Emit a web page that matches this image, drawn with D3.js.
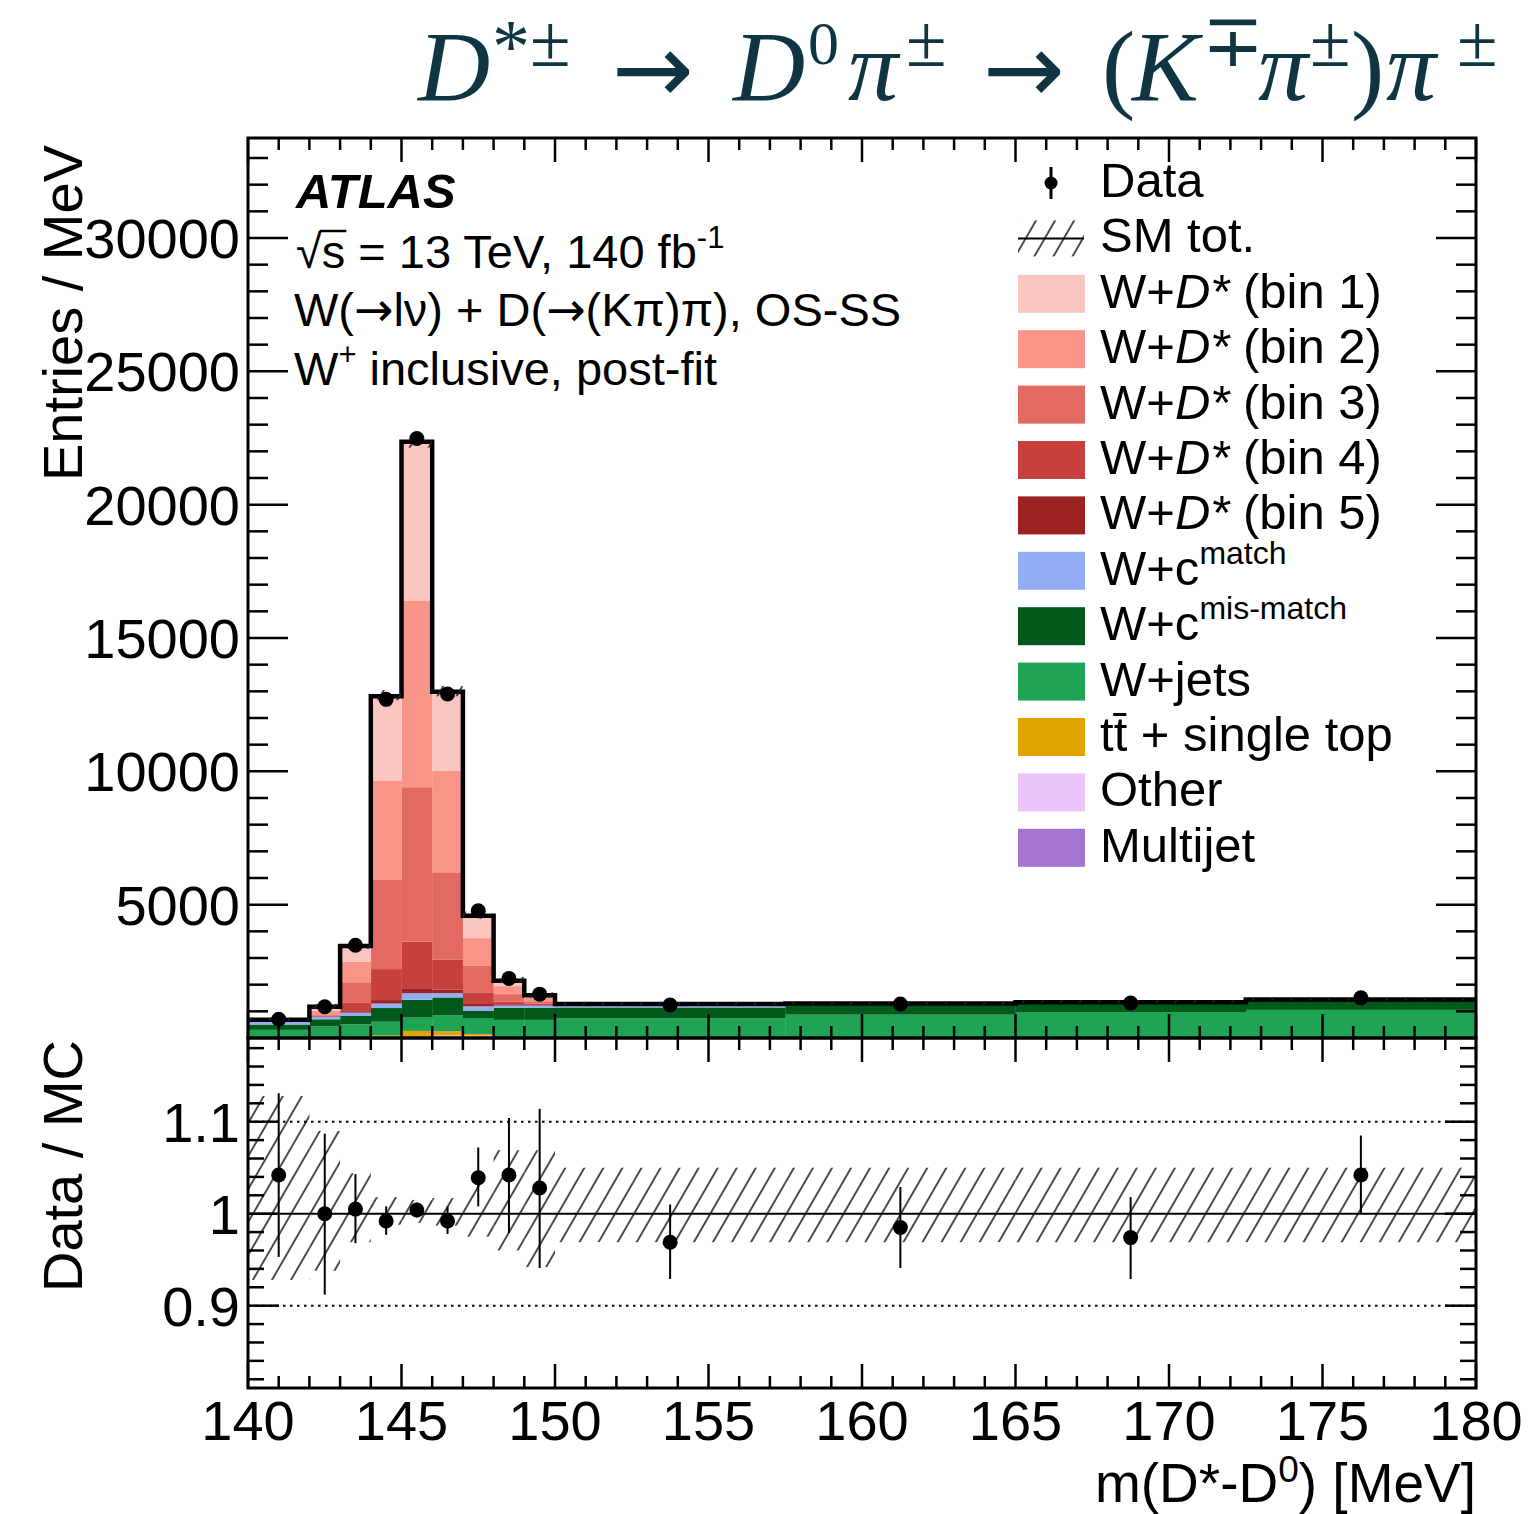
<!DOCTYPE html>
<html>
<head>
<meta charset="utf-8">
<script src="https://cdn.jsdelivr.net/npm/d3@7"></script>
<style>
  body { margin: 0; background: #fff; }
  svg { display: block; }
  text { font-family: "Liberation Sans", Arial, Helvetica, sans-serif; fill: #000; }
  .arr { font-family: "DejaVu Sans", sans-serif; }
</style>
</head>
<body>
<svg id="chart" width="1531" height="1514"></svg>
<script>
// Bin edges of m(D*-D0) in MeV
const edges = [140, 142, 143, 144, 145, 146, 147, 148, 149, 150, 157.5, 165, 172.5, 180];

// Post-fit stacked contributions (entries / MeV), bottom of the stack first
const multijet = [5, 5, 5, 5, 10, 10, 5, 5, 5, 5, 5, 5, 5];
const other    = [5, 5, 10, 15, 30, 86, 86, 15, 10, 5, 5, 5, 5];
const topQuark = [5, 10, 20, 75, 225, 161, 60, 10, 5, 5, 5, 5, 5];
const wjets    = [290, 420, 480, 515, 500, 590, 599, 650, 660, 730, 860, 960, 1040];
const wcMis    = [200, 262, 311, 513, 663, 674, 277, 449, 450, 400, 370, 320, 340];
const wcMatch  = [100, 86, 124, 172, 251, 161, 161, 86, 86, 90, 10, 10, 10];
const ds5      = [5, 15, 55, 127, 187, 127, 86, 50, 20, 5, 5, 5, 5];
const ds4      = [10, 30, 311, 1161, 1745, 1124, 438, 100, 55, 5, 5, 5, 5];
const ds3      = [15, 55, 775, 3344, 5794, 3281, 1011, 280, 86, 10, 10, 10, 10];
const ds2      = [20, 124, 760, 3734, 7003, 3797, 1022, 300, 127, 10, 10, 10, 10];
const ds1      = [25, 160, 600, 3157, 5955, 2970, 839, 200, 97, 10, 10, 10, 10];

// Observed data (entries / MeV)
const dataVals = [705, 1170, 3480, 12700, 22480, 12900, 4770, 2235, 1645, 1240, 1275, 1310, 1505];

// Data / MC ratio with its error bar ends
const ratioVals = [1.042, 1.000, 1.005, 0.992, 1.004, 0.992, 1.039, 1.042, 1.028, 0.969, 0.985, 0.974, 1.042];
const ratioHi   = [1.131, 1.087, 1.043, 1.008, 1.012, 1.008, 1.072, 1.104, 1.114, 1.010, 1.029, 1.018, 1.085];
const ratioLo   = [0.953, 0.912, 0.968, 0.977, 0.996, 0.978, 1.008, 0.979, 0.941, 0.929, 0.941, 0.929, 1.000];

// Relative SM uncertainty band
const bandHi = [1.128, 1.090, 1.044, 1.018, 1.015, 1.017, 1.033, 1.069, 1.069, 1.050, 1.050, 1.050, 1.050];
const bandLo = [0.928, 0.938, 0.969, 0.988, 0.990, 0.987, 0.975, 0.960, 0.942, 0.969, 0.969, 0.969, 0.969];

// Axis tick labels
const xTickVals = [140, 145, 150, 155, 160, 165, 170, 175, 180];
const yTickVals = [5000, 10000, 15000, 20000, 25000, 30000];
const rTickVals = [0.9, 1.0, 1.1];
const rTickText = ["0.9", "1", "1.1"];

const keys = ["multijet", "other", "topQuark", "wjets", "wcMis", "wcMatch", "ds5", "ds4", "ds3", "ds2", "ds1"];
const series = { multijet, other, topQuark, wjets, wcMis, wcMatch, ds5, ds4, ds3, ds2, ds1 };
const colors = {
  multijet: "#a675d1", other: "#ebc4fb", topQuark: "#e0a500", wjets: "#1fa456",
  wcMis: "#02591b", wcMatch: "#92aef5", ds5: "#9c2121", ds4: "#c6403e",
  ds3: "#e36a62", ds2: "#f99489", ds1: "#fbc6c0"
};

const svg = d3.select("#chart");
const L = 248, R = 1476, T = 138, MB = 1038, RB = 1388;

const x = d3.scaleLinear().domain([140, 180]).range([L, R]);
const y = d3.scaleLinear().domain([0, 33750]).range([MB, T]);
const yr = d3.scaleLinear().domain([0.8105, 1.191]).range([RB, MB]);

const bins = d3.range(dataVals.length).map(i => {
  const row = { i, lo: edges[i], hi: edges[i + 1], c: (edges[i] + edges[i + 1]) / 2 };
  keys.forEach(k => row[k] = series[k][i]);
  return row;
});
const totals = bins.map(b => d3.sum(keys, k => b[k]));

// hatch pattern
const defs = svg.append("defs");
defs.append("pattern").attr("id", "hatch").attr("patternUnits", "userSpaceOnUse")
  .attr("width", 16.5).attr("height", 40).attr("patternTransform", "rotate(30)")
  .append("line").attr("x1", 1).attr("x2", 1).attr("y1", 0).attr("y2", 40)
  .attr("stroke", "#222").attr("stroke-width", 1.6);
defs.append("clipPath").attr("id", "clipMain").append("rect")
  .attr("x", L).attr("y", T).attr("width", R - L).attr("height", MB - T);
defs.append("clipPath").attr("id", "clipRatio").append("rect")
  .attr("x", L).attr("y", MB).attr("width", R - L).attr("height", RB - MB);

// ---- main panel: stacked histogram
const stack = d3.stack().keys(keys)(bins);
const gMain = svg.append("g").attr("clip-path", "url(#clipMain)");
gMain.selectAll("g.layer").data(stack).join("g").attr("class", "layer")
  .attr("fill", d => colors[d.key])
  .selectAll("rect").data(d => d).join("rect")
  .attr("x", d => x(d.data.lo))
  .attr("width", d => x(d.data.hi) - x(d.data.lo) + 0.3)
  .attr("y", d => y(d[1]))
  .attr("height", d => Math.max(0, y(d[0]) - y(d[1])));

// total outline
const stepPts = bins.map((b, i) => [b.lo, totals[i]]);
stepPts.push([180, totals[totals.length - 1]]);
gMain.append("path")
  .attr("d", d3.line().x(d => x(d[0])).y(d => y(d[1])).curve(d3.curveStepAfter)(stepPts))
  .attr("fill", "none").attr("stroke", "#000").attr("stroke-width", 4.5);

// SM uncertainty band
gMain.selectAll("rect.band").data(bins).join("rect").attr("class", "band")
  .attr("x", d => x(d.lo)).attr("width", d => x(d.hi) - x(d.lo))
  .attr("y", (d, i) => y(totals[i] * bandHi[i]))
  .attr("height", (d, i) => y(totals[i] * bandLo[i]) - y(totals[i] * bandHi[i]))
  .attr("fill", "url(#hatch)");

// data points
gMain.selectAll("circle.data").data(bins).join("circle").attr("class", "data")
  .attr("cx", d => x(d.c)).attr("cy", (d, i) => y(dataVals[i])).attr("r", 7.5);

// ---- ratio panel
const gRatio = svg.append("g").attr("clip-path", "url(#clipRatio)");
gRatio.selectAll("rect.rband").data(bins).join("rect").attr("class", "rband")
  .attr("x", d => x(d.lo)).attr("width", d => x(d.hi) - x(d.lo))
  .attr("y", (d, i) => yr(bandHi[i]))
  .attr("height", (d, i) => yr(bandLo[i]) - yr(bandHi[i]))
  .attr("fill", "url(#hatch)");
[1.1, 0.9].forEach(v => gRatio.append("line")
  .attr("x1", L).attr("x2", R).attr("y1", yr(v)).attr("y2", yr(v))
  .attr("stroke", "#000").attr("stroke-width", 2).attr("stroke-dasharray", "2.5,4.5"));
gRatio.append("line").attr("x1", L).attr("x2", R).attr("y1", yr(1)).attr("y2", yr(1))
  .attr("stroke", "#000").attr("stroke-width", 2);
gRatio.selectAll("line.err").data(bins).join("line").attr("class", "err")
  .attr("x1", d => x(d.c)).attr("x2", d => x(d.c))
  .attr("y1", (d, i) => yr(ratioHi[i])).attr("y2", (d, i) => yr(ratioLo[i]))
  .attr("stroke", "#000").attr("stroke-width", 2);
gRatio.selectAll("circle.rp").data(bins).join("circle").attr("class", "rp")
  .attr("cx", d => x(d.c)).attr("cy", (d, i) => yr(ratioVals[i])).attr("r", 7.5);

// ---- frames and ticks
const gAx = svg.append("g").attr("stroke", "#000").attr("fill", "none");
gAx.append("rect").attr("x", L).attr("y", T).attr("width", R - L).attr("height", MB - T).attr("stroke-width", 3);
gAx.append("rect").attr("x", L).attr("y", MB).attr("width", R - L).attr("height", RB - MB).attr("stroke-width", 3);

function xTicks(top, bottom, maj, mnr) {
  d3.range(140, 180.01, 1).forEach(v => {
    const len = (v % 5 === 0) ? maj : mnr;
    gAx.append("line").attr("x1", x(v)).attr("x2", x(v)).attr("y1", bottom).attr("y2", bottom - len).attr("stroke-width", 2.5);
    gAx.append("line").attr("x1", x(v)).attr("x2", x(v)).attr("y1", top).attr("y2", top + len).attr("stroke-width", 2.5);
  });
}
function yTicks(scale, vals, isMajor, maj, mnr) {
  vals.forEach(v => {
    const len = isMajor(v) ? maj : mnr;
    const yy = scale(v);
    gAx.append("line").attr("x1", L).attr("x2", L + len).attr("y1", yy).attr("y2", yy).attr("stroke-width", 2.5);
    gAx.append("line").attr("x1", R).attr("x2", R - len).attr("y1", yy).attr("y2", yy).attr("stroke-width", 2.5);
  });
}
xTicks(T, MB, 24, 12);
xTicks(MB, RB, 24, 12);
yTicks(y, d3.range(1000, 33751, 1000), v => v % 5000 === 0, 40, 20);
yTicks(yr, d3.range(0.82, 1.19, 0.02).map(v => +v.toFixed(2)),
  v => Math.abs(v * 10 - Math.round(v * 10)) < 1e-6, 31, 16);

// tick labels
svg.selectAll("text.xl").data(xTickVals).join("text").attr("class", "xl")
  .attr("x", d => x(d)).attr("y", 1440).attr("text-anchor", "middle")
  .attr("font-size", 56).text(d => d);
svg.selectAll("text.yl").data(yTickVals).join("text").attr("class", "yl")
  .attr("x", 240).attr("y", d => y(d) + 20).attr("text-anchor", "end")
  .attr("font-size", 56).text(d => d);
svg.selectAll("text.rl").data(rTickVals).join("text").attr("class", "rl")
  .attr("x", 240).attr("y", d => yr(d) + 20).attr("text-anchor", "end")
  .attr("font-size", 56).text((d, i) => rTickText[i]);

// axis titles
svg.append("text").attr("transform", "translate(82,145) rotate(-90)")
  .attr("text-anchor", "end").attr("font-size", 56).text("Entries / MeV");
svg.append("text").attr("transform", "translate(82,1040) rotate(-90)")
  .attr("text-anchor", "end").attr("font-size", 56).text("Data / MC");
const xt = svg.append("text").attr("x", R).attr("y", 1502).attr("text-anchor", "end").attr("font-size", 55);
xt.append("tspan").text("m(D*-D");
xt.append("tspan").attr("font-size", 37).attr("dy", -20).text("0");
xt.append("tspan").attr("dy", 20).text(") [MeV]");

// title: decay chain, each glyph group placed along the baseline
const titleColor = "#0e3541";
const titleParts = [
  { t: "D", x: 418, kind: "it" },
  { t: "*", x: 492, kind: "sup" },
  { t: "±", x: 530, kind: "sup" },
  { t: "\u2192", x: 612, kind: "arrow" },
  { t: "D", x: 733, kind: "it" },
  { t: "0", x: 808, kind: "sup" },
  { t: "\u03C0", x: 848, kind: "it" },
  { t: "±", x: 906, kind: "sup" },
  { t: "\u2192", x: 983, kind: "arrow" },
  { t: "(", x: 1102, kind: "up" },
  { t: "K", x: 1132, kind: "it" },
  { t: "\u2213", x: 1202, kind: "sup" },
  { t: "\u03C0", x: 1258, kind: "it" },
  { t: "±", x: 1310, kind: "sup" },
  { t: ")", x: 1351, kind: "up" },
  { t: "\u03C0", x: 1386, kind: "it" },
  { t: "±", x: 1457, kind: "sup" }
];
const gTitle = svg.append("g");
titleParts.forEach(p => {
  const t = gTitle.append("text").attr("x", p.x).text(p.t)
    .style("fill", titleColor)
    .style("font-family", "'Liberation Serif', 'DejaVu Serif', serif");
  if (p.kind === "it") t.attr("y", 100).attr("font-size", 100).attr("font-style", "italic");
  else if (p.kind === "up") t.attr("y", 100).attr("font-size", 100);
  else if (p.kind === "sup") {
    if (p.t === "*") t.attr("y", 72).attr("font-size", 76);
    else if (p.t === "0") t.attr("y", 64).attr("font-size", 62);
    else t.attr("y", 66).attr("font-size", 74);
  }
  else t.attr("y", 103).attr("font-size", 98).style("font-family", "'DejaVu Sans', sans-serif");
});

// ATLAS label block
svg.append("text").attr("x", 296).attr("y", 208).attr("font-size", 49)
  .attr("font-weight", "bold").attr("font-style", "italic").text("ATLAS");
const l2 = svg.append("text").attr("x", 296).attr("y", 268).attr("font-size", 47);
l2.append("tspan").text("\u221As");
l2.append("tspan").text(" = 13 TeV, 140 fb");
l2.append("tspan").attr("font-size", 31).attr("dy", -20).text("-1");
// overline of the square root
{
  const node = l2.node();
  const w0 = node.getSubStringLength(0, 1);
  const w1 = node.getSubStringLength(1, 1);
  svg.append("line").attr("x1", 296 + w0 - 2).attr("x2", 296 + w0 + w1 + 1)
    .attr("y1", 268 - 37).attr("y2", 268 - 37).attr("stroke", "#000").attr("stroke-width", 2.5);
}
const l3 = svg.append("text").attr("x", 294).attr("y", 326).attr("font-size", 47);
l3.append("tspan").text("W(");
l3.append("tspan").attr("class", "arr").text("\u2192");
l3.append("tspan").text("l\u03BD) + D(");
l3.append("tspan").attr("class", "arr").text("\u2192");
l3.append("tspan").text("(K\u03C0)\u03C0), OS-SS");
const l4 = svg.append("text").attr("x", 294).attr("y", 385).attr("font-size", 47);
l4.append("tspan").text("W");
l4.append("tspan").attr("font-size", 31).attr("dy", -20).text("+");
l4.append("tspan").attr("dy", 20).text(" inclusive, post-fit");

// ---- legend
const legendItems = [
  { type: "data", label: ["Data"] },
  { type: "band", label: ["SM tot."] },
  { type: "box", key: "ds1", label: ["W+", "D*", " (bin 1)"] },
  { type: "box", key: "ds2", label: ["W+", "D*", " (bin 2)"] },
  { type: "box", key: "ds3", label: ["W+", "D*", " (bin 3)"] },
  { type: "box", key: "ds4", label: ["W+", "D*", " (bin 4)"] },
  { type: "box", key: "ds5", label: ["W+", "D*", " (bin 5)"] },
  { type: "box", key: "wcMatch", label: ["W+c"], sup: "match" },
  { type: "box", key: "wcMis", label: ["W+c"], sup: "mis-match" },
  { type: "box", key: "wjets", label: ["W+jets"] },
  { type: "box", key: "topQuark", label: ["t", "t\u0304 + single top"] },
  { type: "box", key: "other", label: ["Other"] },
  { type: "box", key: "multijet", label: ["Multijet"] }
];
const lg = svg.append("g");
legendItems.forEach((it, i) => {
  const base = 197 + i * 55.4;
  const cy = base - 14;
  if (it.type === "data") {
    lg.append("line").attr("x1", 1051).attr("x2", 1051).attr("y1", cy - 16).attr("y2", cy + 16)
      .attr("stroke", "#000").attr("stroke-width", 3);
    lg.append("circle").attr("cx", 1051).attr("cy", cy).attr("r", 6.5);
  } else if (it.type === "band") {
    lg.append("rect").attr("x", 1018).attr("y", cy - 18).attr("width", 66).attr("height", 36)
      .attr("fill", "url(#hatch)");
    lg.append("line").attr("x1", 1018).attr("x2", 1084).attr("y1", cy).attr("y2", cy)
      .attr("stroke", "#000").attr("stroke-width", 2);
  } else {
    lg.append("rect").attr("x", 1018).attr("y", cy - 19).attr("width", 67).attr("height", 38)
      .attr("fill", colors[it.key]);
  }
  const t = lg.append("text").attr("x", 1100).attr("y", base).attr("font-size", 49);
  it.label.forEach(s => {
    const sp = t.append("tspan").text(s);
    if (s === "D*") sp.attr("font-style", "italic");
  });
  if (it.sup) t.append("tspan").attr("font-size", 32).attr("dy", -21).text(it.sup);
});
</script>
</body>
</html>
